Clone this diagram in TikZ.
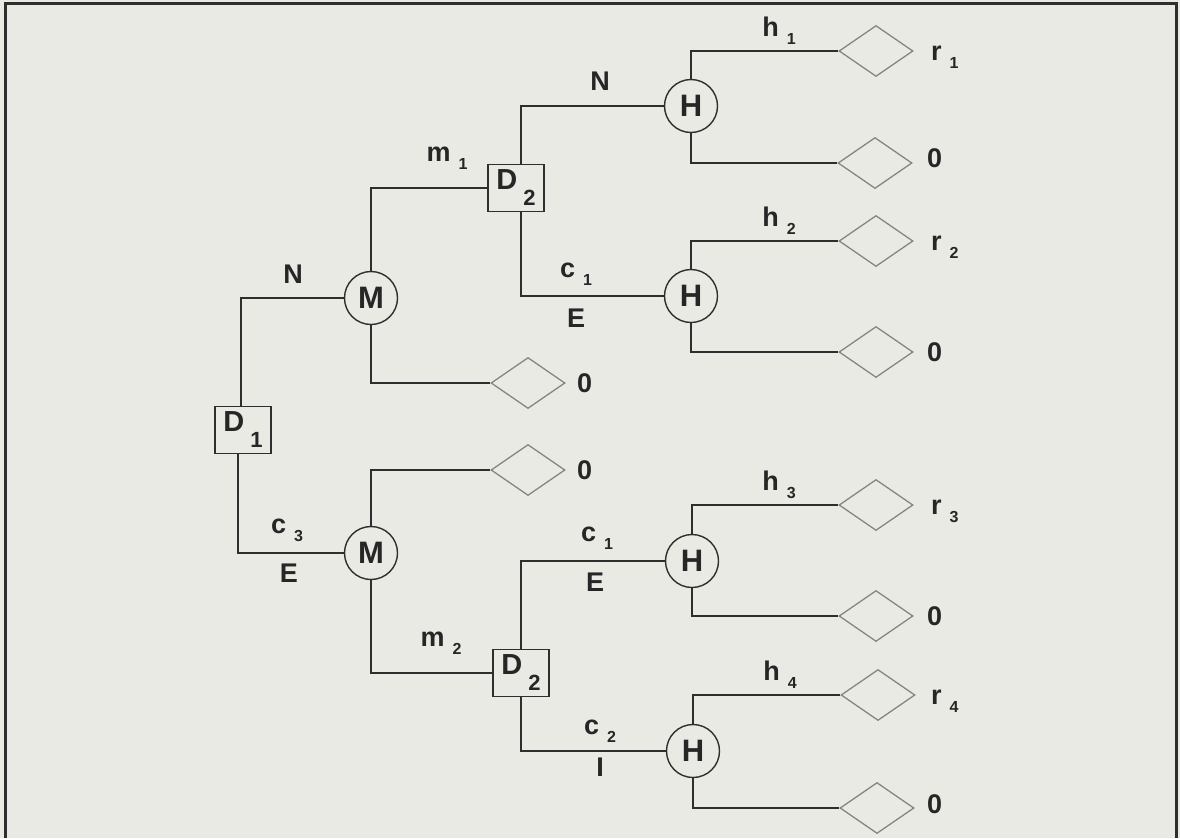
\documentclass[tikz,border=0pt]{standalone}
\usepackage{fontspec}
\setmainfont{Liberation Sans}
\usetikzlibrary{shapes.geometric}
\definecolor{bg}{HTML}{EAEAE4}
\definecolor{ink}{HTML}{2E2E2E}
\definecolor{dia}{HTML}{858585}
\newcommand{\lab}[2]{#1\hspace{8pt}\raisebox{-8pt}{\fontsize{16}{16}\selectfont #2}}
\newcommand{\dsub}[1]{D\hspace{6pt}\raisebox{-16pt}{\fontsize{22}{22}\selectfont #1}}
\begin{document}
\begin{tikzpicture}[x=1pt,y=-1pt,
  every node/.style={font=\bfseries\fontsize{27}{29}\selectfont, text=black!85},
  conn/.style={draw=ink, line width=1.4pt},
  chance/.style={circle, draw=ink, line width=1.4pt, minimum size=53pt, inner sep=0pt, font=\bfseries\fontsize{31}{33}\selectfont},
  decision/.style={rectangle, draw=ink, line width=1.4pt, minimum width=56pt, minimum height=47pt, inner sep=0pt, font=\bfseries\fontsize{29}{31}\selectfont},
  value/.style={diamond, draw=dia, line width=1.3pt, minimum width=74pt, minimum height=51pt, inner sep=0pt},
  txt/.style={inner sep=0pt},
  vlab/.style={inner sep=0pt, anchor=west}]
\fill[bg] (0,0) rectangle (1180,838);
\useasboundingbox (0,0) rectangle (1180,838);
\draw[ink, line width=3pt] (5,838) -- (5,3) -- (1176,3) -- (1176,838);

% nodes
\node[decision] (D1) at (243,430) {\dsub{1}};
\node[chance] (M1) at (371,298) {M};
\node[chance] (M2) at (371,553) {M};
\node[value] (Z1) at (528,383) {};
\node[value] (Z2) at (528,470) {};
\node[decision] (D2a) at (516,188) {\dsub{2}};
\node[decision] (D2b) at (521,673) {\dsub{2}};
\node[chance] (H1) at (691,106) {H};
\node[chance] (H2) at (691,296) {H};
\node[chance] (H3) at (692,561) {H};
\node[chance] (H4) at (693,751) {H};
\node[value] (R1) at (876,51) {};
\node[value] (V1) at (875,163) {};
\node[value] (R2) at (876,241) {};
\node[value] (V2) at (876,352) {};
\node[value] (R3) at (876,505) {};
\node[value] (V3) at (876,616) {};
\node[value] (R4) at (878,695) {};
\node[value] (V4) at (877,808) {};

% connectors
\draw[conn] ([xshift=-2pt]D1.north) |- (M1.west);
\draw[conn] ([xshift=-5pt]D1.south) |- (M2.west);
\draw[conn] (M1.north) |- (D2a.west);
\draw[conn] (M1.south) |- (Z1.west);
\draw[conn] (M2.north) |- (Z2.west);
\draw[conn] (M2.south) |- (D2b.west);
\draw[conn] ([xshift=5pt]D2a.north) |- (H1.west);
\draw[conn] ([xshift=5pt]D2a.south) |- (H2.west);
\draw[conn] (D2b.north) |- (H3.west);
\draw[conn] (D2b.south) |- (H4.west);
\draw[conn] (H1.north) |- (R1.west);
\draw[conn] (H1.south) |- (V1.west);
\draw[conn] (H2.north) |- (R2.west);
\draw[conn] (H2.south) |- (V2.west);
\draw[conn] (H3.north) |- (R3.west);
\draw[conn] (H3.south) |- (V3.west);
\draw[conn] (H4.north) |- (R4.west);
\draw[conn] (H4.south) |- (V4.west);

% edge labels
\node[txt] (lN1) at (293,274) {N};
\node[txt] (lc3) at (287,530) {\lab{c}{3}};
\node[txt] (lE1) at (289,573) {E};
\node[txt] (lm1) at (447,158) {\lab{m}{1}};
\node[txt] (lm2) at (441,643) {\lab{m}{2}};
\node[txt] (lN2) at (600,81) {N};
\node[txt] (lc1a) at (576,274) {\lab{c}{1}};
\node[txt] (lE2) at (576,318) {E};
\node[txt] (lc1b) at (597,538) {\lab{c}{1}};
\node[txt] (lE3) at (595,582) {E};
\node[txt] (lc2) at (600,731) {\lab{c}{2}};
\node[txt] (lI) at (600,767) {I};
\node[txt] (lh1) at (779,31) {\lab{h}{1}};
\node[txt] (lh2) at (779,221) {\lab{h}{2}};
\node[txt] (lh3) at (779,485) {\lab{h}{3}};
\node[txt] (lh4) at (780,675) {\lab{h}{4}};

% value labels
\node[vlab] (tr1) at (931,57) {\lab{r}{1}};
\node[vlab] (t01) at (927,158) {0};
\node[vlab] (tr2) at (931,247) {\lab{r}{2}};
\node[vlab] (t02) at (927,352) {0};
\node[vlab] (tz1) at (577,383) {0};
\node[vlab] (tz2) at (577,470) {0};
\node[vlab] (tr3) at (931,511) {\lab{r}{3}};
\node[vlab] (t03) at (927,616) {0};
\node[vlab] (tr4) at (931,701) {\lab{r}{4}};
\node[vlab] (t04) at (927,804) {0};
\end{tikzpicture}
\end{document}
